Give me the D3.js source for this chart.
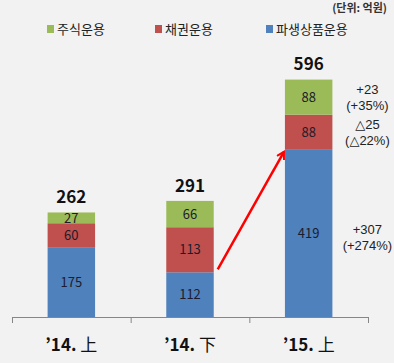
<!DOCTYPE html>
<html>
<head>
<meta charset="utf-8">
<script src="https://cdn.jsdelivr.net/npm/d3@7"></script>
<style>
  body { margin: 0; background: #f2f2f2; }
  svg { display: block; font-family: "Noto Sans CJK KR", "Noto Sans", sans-serif; }
</style>
</head>
<body>
<div id="chart"></div>
<script>
// data
var periods = ["\u201914. \u4E0A", "\u201914. \u4E0B", "\u201915. \u4E0A"];
var seriesNames = ["파생상품운용", "채권운용", "주식운용"];
var derivValues = [175, 112, 419];
var bondValues = [60, 113, 88];
var stockValues = [27, 66, 88];
var totals = [262, 291, 596];
var noteLines = [["+23", "(+35%)"], ["\u25B325", "(\u25B322%)"], ["+307", "(+274%)"]];
var legendOrder = ["주식운용", "채권운용", "파생상품운용"];
var colors = { "주식운용": "#9bbb59", "채권운용": "#c0504d", "파생상품운용": "#4f81bd" };

var svgWidth = 394, svgHeight = 363;

var svg = d3.select("#chart").append("svg")
  .attr("width", svgWidth)
  .attr("height", svgHeight);

svg.append("rect").attr("width", svgWidth).attr("height", svgHeight).attr("fill", "#f2f2f2");

var axisY = 317;

// scales
var xScale = d3.scaleBand()
  .domain(periods)
  .range([12, 368])
  .paddingInner(0.6)
  .paddingOuter(0.3);

var edgeScale = d3.scaleLinear().domain([0, periods.length]).range([12, 368]);

var yScale = d3.scaleLinear()
  .domain([0, 650])
  .range([axisY, axisY - 0.399 * 650]);

// stack the rows
var rows = periods.map(function(p, i) {
  return { period: p, "파생상품운용": derivValues[i], "채권운용": bondValues[i], "주식운용": stockValues[i] };
});
var stacked = d3.stack().keys(seriesNames)(rows);

var layers = svg.selectAll("g.layer")
  .data(stacked)
  .enter().append("g")
  .attr("class", "layer")
  .attr("fill", function(d) { return colors[d.key]; });

layers.selectAll("rect")
  .data(function(d) { return d; })
  .enter().append("rect")
  .attr("x", function(d) { return xScale(d.data.period); })
  .attr("y", function(d) { return yScale(d[1]); })
  .attr("width", xScale.bandwidth())
  .attr("height", function(d) { return yScale(d[0]) - yScale(d[1]); });

// segment values
layers.selectAll("text")
  .data(function(d) { return d.map(function(s) { return { s: s, key: d.key }; }); })
  .enter().append("text")
  .attr("x", function(d) { return xScale(d.s.data.period) + xScale.bandwidth() / 2; })
  .attr("y", function(d) { return (yScale(d.s[0]) + yScale(d.s[1])) / 2; })
  .attr("dy", "0.36em")
  .attr("text-anchor", "middle")
  .attr("fill", "#1c1c2c")
  .style("font-size", "13px")
  .text(function(d) { return d.s.data[d.key]; });

// totals
svg.selectAll("text.total")
  .data(periods)
  .enter().append("text")
  .attr("class", "total")
  .attr("x", function(p) { return xScale(p) + xScale.bandwidth() / 2; })
  .attr("y", function(p, i) { return yScale(totals[i]) - 9; })
  .attr("text-anchor", "middle")
  .style("font-size", "17px")
  .style("font-weight", "bold")
  .attr("fill", "#111")
  .text(function(p, i) { return totals[i]; });

// axis with ticks on the band edges
svg.append("g")
  .attr("transform", "translate(0," + axisY + ")")
  .call(d3.axisBottom(edgeScale).tickValues(d3.range(periods.length + 1)).tickFormat("").tickSize(6).tickSizeOuter(0))
  .call(function(g) { g.selectAll("path,line").attr("stroke", "#868686"); });

svg.append("g")
  .attr("transform", "translate(0," + axisY + ")")
  .call(d3.axisBottom(xScale).tickSize(0).tickPadding(22))
  .call(function(g) {
    g.select(".domain").remove();
    g.selectAll("text")
      .style("font-size", "17px")
      .style("font-family", "\"Noto Sans CJK KR\", sans-serif")
      .attr("fill", "#111")
      .each(function(p) {
        // year part bold, 上/下 in regular weight
        var t = d3.select(this).text("");
        t.append("tspan").style("font-weight", "bold").text(p.slice(0, -1));
        t.append("tspan").style("font-weight", "normal").text(p.slice(-1));
      });
  });

// change notes beside the last bar
var last = periods.length - 1;
var lastRow = stacked.map(function(layer) { return layer[last]; });
var noteX = xScale(periods[last]) + xScale.bandwidth() + 35;
var notes = svg.selectAll("g.note")
  .data([2, 1, 0])
  .enter().append("g")
  .attr("class", "note")
  .attr("transform", function(k) {
    var s = lastRow[k];
    var cy = k === 0 ? yScale(s[0]) - 80 : (yScale(s[0]) + yScale(s[1])) / 2;
    return "translate(" + noteX + "," + cy + ")";
  });
notes.selectAll("text")
  .data(function(k) { return noteLines[2 - k]; })
  .enter().append("text")
  .attr("x", 0)
  .attr("y", function(d, i) { return i === 0 ? -8 : 8; })
  .attr("dy", "0.35em")
  .attr("text-anchor", "middle")
  .style("font-family", "\"Liberation Sans\", \"DejaVu Sans\", sans-serif")
  .style("font-size", "13px")
  .attr("fill", "#222")
  .text(function(d) { return d; });

// red arrow from bar 2 to bar 3
var defs = svg.append("defs");
defs.append("marker")
  .attr("id", "arrow")
  .attr("viewBox", "0 0 10 10")
  .attr("refX", 8).attr("refY", 5)
  .attr("markerWidth", 4).attr("markerHeight", 4)
  .attr("orient", "auto")
  .append("path")
  .attr("d", "M1,1 L8,5 L1,9")
  .attr("fill", "none")
  .attr("stroke", "#ff0000")
  .attr("stroke-width", 2);

svg.append("line")
  .attr("x1", xScale(periods[1]) + xScale.bandwidth() + 4)
  .attr("y1", yScale(derivValues[1]) - 3)
  .attr("x2", xScale(periods[2]) - 1)
  .attr("y2", yScale(derivValues[2]) + 2)
  .attr("stroke", "#ff0000")
  .attr("stroke-width", 2.5)
  .attr("marker-end", "url(#arrow)");

// legend
var legendX = [47, 155, 266];
var legend = svg.selectAll("g.legend")
  .data(legendOrder)
  .enter().append("g")
  .attr("class", "legend")
  .attr("transform", function(d, i) { return "translate(" + legendX[i] + ",25)"; });
legend.append("rect").attr("width", 7).attr("height", 8).attr("fill", function(d) { return colors[d]; });
legend.append("text")
  .attr("x", 10).attr("y", 4).attr("dy", "0.36em")
  .style("font-size", "13px")
  .attr("fill", "#222")
  .text(function(d) { return d; });

// unit note
svg.append("text")
  .attr("x", 387).attr("y", 12)
  .attr("text-anchor", "end")
  .style("font-size", "11px")
  .style("font-weight", "bold")
  .attr("fill", "#333")
  .text("(단위: 억원)");
</script>
</body>
</html>
